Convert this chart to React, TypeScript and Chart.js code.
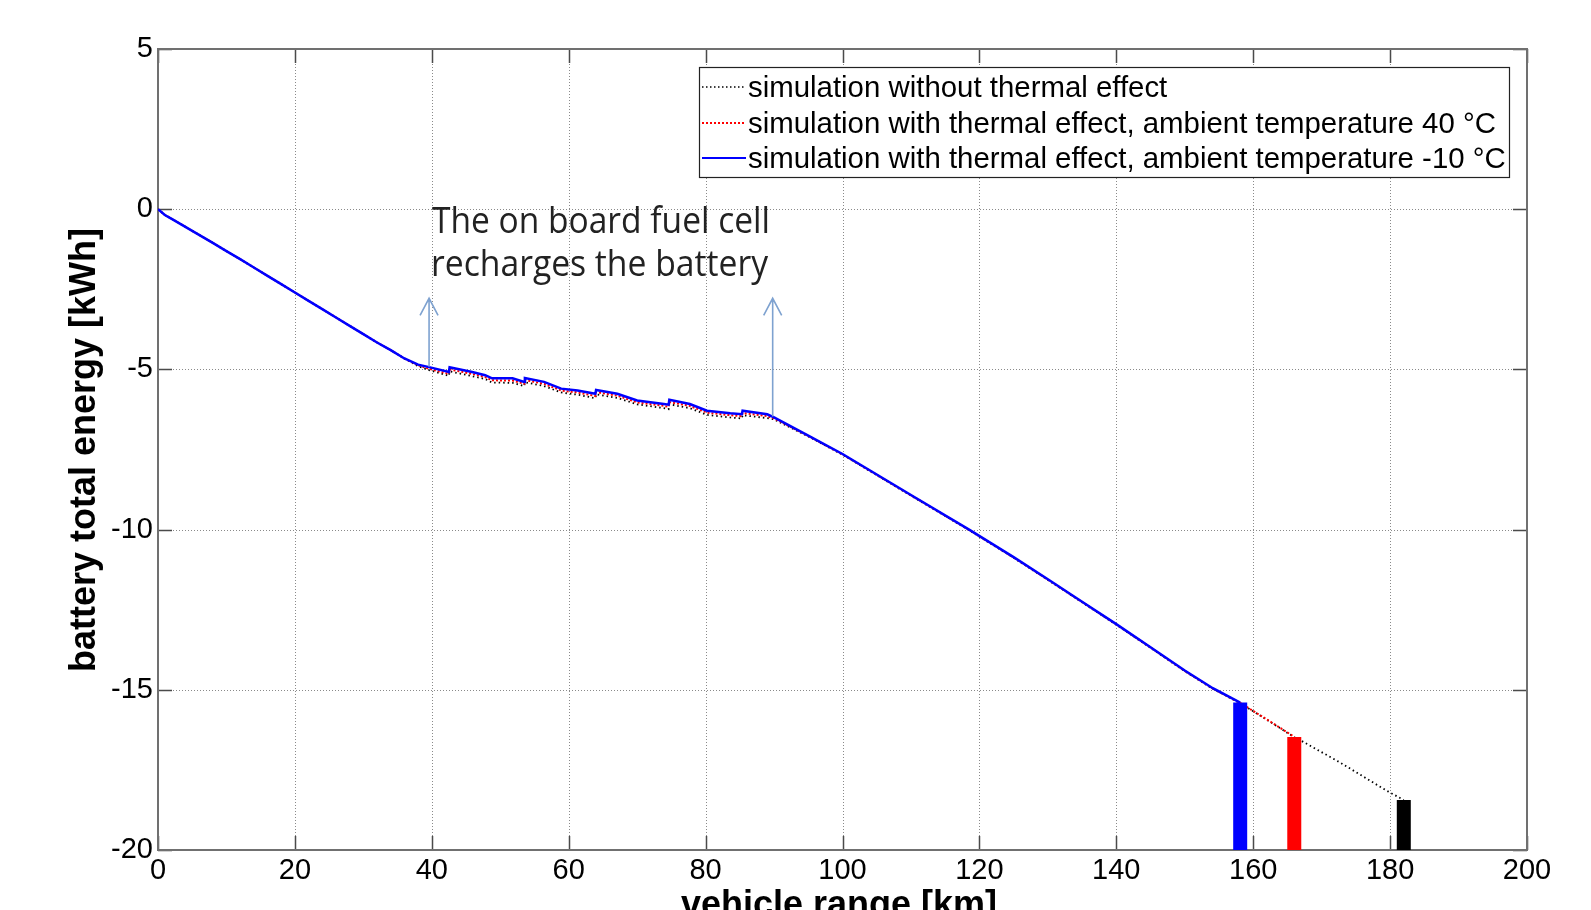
import React, { useEffect, useRef } from "react";
import { Chart, registerables } from "chart.js";

Chart.register(...registerables);

// ---- axes ----
const xTicks = [0, 20, 40, 60, 80, 100, 120, 140, 160, 180, 200];
const yTicks = [-20, -15, -10, -5, 0, 5];
const xTitle = "vehicle range [km]";
const yTitle = "battery total energy [kWh]";

// ---- series: simulation with thermal effect, ambient -10 °C (blue) ----
const kmBlue = [0, 1, 2, 4, 6, 8, 10, 12, 14, 16, 18, 20, 22, 24, 26, 28, 30, 32, 34, 36, 38,
  39.6, 42.5, 42.6, 45.9, 47.8, 48.8, 51.8, 53.5, 53.6, 56.4, 58.9, 61.3, 63.9, 64.0, 67.1, 70.0,
  73.9, 74.6, 74.7, 77.7, 80.2, 83.6, 85.3, 85.4, 89.0, 90.0,
  95, 100, 105, 110, 118.5, 125, 130, 135, 140, 145, 150, 154.1, 158.1];
const energyBlue = [0, -0.18, -0.3, -0.55, -0.8, -1.05, -1.31, -1.56, -1.82, -2.08, -2.34, -2.6, -2.86, -3.12, -3.38, -3.64, -3.9, -4.16, -4.4, -4.66, -4.85,
  -4.93, -5.08, -4.93, -5.08, -5.18, -5.28, -5.28, -5.39, -5.27, -5.39, -5.6, -5.66, -5.76, -5.64, -5.76, -5.97,
  -6.08, -6.1, -5.95, -6.08, -6.29, -6.37, -6.4, -6.29, -6.4, -6.5,
  -7.07, -7.64, -8.28, -8.92, -10.0, -10.86, -11.55, -12.25, -12.95, -13.67, -14.4, -14.95, -15.4];

// ---- series: simulation with thermal effect, ambient 40 °C (red) ----
const kmRed = [0, 1, 2, 4, 6, 8, 10, 12, 14, 16, 18, 20, 22, 24, 26, 28, 30, 32, 34, 36, 38,
  39.6, 42.5, 42.6, 45.9, 47.8, 48.8, 51.8, 53.5, 53.6, 56.4, 58.9, 61.3, 63.9, 64.0, 67.1, 70.0,
  73.9, 74.6, 74.7, 77.7, 80.2, 83.6, 85.3, 85.4, 89.0, 90.0,
  95, 100, 105, 110, 118.5, 125, 130, 135, 140, 145, 150, 154.1, 158.1, 160, 163, 166];
const energyRed = [0, -0.18, -0.3, -0.55, -0.8, -1.05, -1.31, -1.56, -1.82, -2.08, -2.34, -2.6, -2.86, -3.12, -3.38, -3.64, -3.9, -4.16, -4.4, -4.66, -4.87,
  -4.98, -5.14, -5.0, -5.14, -5.24, -5.34, -5.35, -5.45, -5.33, -5.45, -5.66, -5.72, -5.83, -5.71, -5.82, -6.03,
  -6.14, -6.17, -6.02, -6.14, -6.35, -6.43, -6.46, -6.36, -6.46, -6.53,
  -7.08, -7.65, -8.29, -8.93, -10.01, -10.87, -11.56, -12.26, -12.96, -13.68, -14.41, -14.96, -15.41, -15.66, -16.06, -16.47];

// ---- series: simulation without thermal effect (black) ----
const kmBlack = [0, 1, 2, 4, 6, 8, 10, 12, 14, 16, 18, 20, 22, 24, 26, 28, 30, 32, 34, 36, 38,
  39.6, 42.5, 42.6, 45.9, 47.8, 48.8, 51.8, 53.5, 53.6, 56.4, 58.9, 61.3, 63.9, 64.0, 67.1, 70.0,
  73.9, 74.6, 74.7, 77.7, 80.2, 83.6, 85.3, 85.4, 89.0, 90.0,
  95, 100, 105, 110, 118.5, 125, 130, 135, 140, 145, 150, 154.1, 158.1, 160, 163, 166,
  167.1, 172.7, 179.5, 182];
const energyBlack = [0, -0.18, -0.3, -0.55, -0.8, -1.05, -1.31, -1.56, -1.82, -2.08, -2.34, -2.6, -2.86, -3.12, -3.38, -3.64, -3.9, -4.16, -4.4, -4.66, -4.9,
  -5.02, -5.2, -5.06, -5.21, -5.3, -5.41, -5.42, -5.52, -5.4, -5.52, -5.72, -5.79, -5.9, -5.78, -5.89, -6.09,
  -6.21, -6.24, -6.09, -6.21, -6.42, -6.5, -6.53, -6.43, -6.52, -6.56,
  -7.09, -7.66, -8.3, -8.94, -10.02, -10.88, -11.57, -12.27, -12.97, -13.69, -14.42, -14.97, -15.42, -15.67, -16.07, -16.48,
  -16.6, -17.27, -18.15, -18.44];

const seriesLabels = [
  "simulation without thermal effect",
  "simulation with thermal effect, ambient temperature 40 °C",
  "simulation with thermal effect, ambient temperature -10 °C",
];

// ---- end-of-range markers (blue, red, black) ----
const endKm = [158.1, 166.0, 182.0];
const endEnergy = [-15.4, -16.47, -18.44];

// ---- annotation ----
const arrowKm = [39.6, 89.8];
const arrowFrom = [-4.92, -6.47];
const arrowTo = [-2.78, -2.78];
const noteLines = ["The on board fuel cell", "recharges the battery"];

const SANS = "'Liberation Sans', Arial, Helvetica, sans-serif";

const framePlugin = {
  id: "frame",
  beforeDatasetsDraw(chart: any) {
    const { ctx, chartArea: a } = chart;
    const xs = chart.scales.x;
    const ys = chart.scales.y;
    ctx.save();
    // dotted grid
    ctx.strokeStyle = "#8a8a8a";
    ctx.lineWidth = 1;
    ctx.setLineDash([1, 2]);
    for (const v of xTicks) {
      if (v === xTicks[0] || v === xTicks[xTicks.length - 1]) continue;
      const p = Math.round(xs.getPixelForValue(v)) + 0.5;
      ctx.beginPath();
      ctx.moveTo(p, a.top);
      ctx.lineTo(p, a.bottom);
      ctx.stroke();
    }
    for (const v of yTicks) {
      if (v === yTicks[0] || v === yTicks[yTicks.length - 1]) continue;
      const p = Math.round(ys.getPixelForValue(v)) + 0.5;
      ctx.beginPath();
      ctx.moveTo(a.left, p);
      ctx.lineTo(a.right, p);
      ctx.stroke();
    }
    ctx.setLineDash([]);
    // inward tick marks
    ctx.strokeStyle = "#4a4a4a";
    ctx.lineWidth = 1.5;
    const tl = 14;
    for (const v of xTicks) {
      const p = Math.round(xs.getPixelForValue(v)) + 0.5;
      ctx.beginPath();
      ctx.moveTo(p, a.bottom);
      ctx.lineTo(p, a.bottom - tl);
      ctx.moveTo(p, a.top);
      ctx.lineTo(p, a.top + tl);
      ctx.stroke();
    }
    for (const v of yTicks) {
      const p = Math.round(ys.getPixelForValue(v)) + 0.5;
      ctx.beginPath();
      ctx.moveTo(a.left, p);
      ctx.lineTo(a.left + tl, p);
      ctx.moveTo(a.right, p);
      ctx.lineTo(a.right - tl, p);
      ctx.stroke();
    }
    // box
    ctx.strokeStyle = "#707070";
    ctx.lineWidth = 2;
    ctx.strokeRect(a.left, a.top, a.right - a.left, a.bottom - a.top);
    ctx.restore();
  },
  afterDatasetsDraw(chart: any) {
    const { ctx } = chart;
    const xs = chart.scales.x;
    const ys = chart.scales.y;
    ctx.save();

    // arrows
    ctx.strokeStyle = "#7ea2d0";
    ctx.lineWidth = 1.6;
    for (let i = 0; i < arrowKm.length; i++) {
      const px = xs.getPixelForValue(arrowKm[i]);
      const y0 = ys.getPixelForValue(arrowFrom[i]);
      const y1 = ys.getPixelForValue(arrowTo[i]);
      ctx.beginPath();
      ctx.moveTo(px, y0);
      ctx.lineTo(px, y1);
      ctx.moveTo(px - 9, y1 + 17);
      ctx.lineTo(px, y1);
      ctx.lineTo(px + 9, y1 + 17);
      ctx.stroke();
    }

    // annotation text
    ctx.fillStyle = "#222222";
    ctx.font = "36px 'Open Sans', 'Noto Sans', sans-serif";
    ctx.textAlign = "left";
    ctx.textBaseline = "alphabetic";
    const noteX = [432, 431];
    const noteY = [233, 276];
    const noteW = [338, 337];
    for (let i = 0; i < noteLines.length; i++) {
      const w = ctx.measureText(noteLines[i]).width;
      ctx.save();
      ctx.translate(noteX[i], noteY[i]);
      ctx.scale(noteW[i] / w, 1);
      ctx.fillText(noteLines[i], 0, 0);
      ctx.restore();
    }

    // legend
    const lx = 699, ly = 67, lw = 810, lh = 110;
    ctx.fillStyle = "#ffffff";
    ctx.fillRect(lx, ly, lw, lh);
    ctx.strokeStyle = "#222";
    ctx.lineWidth = 1.2;
    ctx.strokeRect(lx + 0.5, ly + 0.5, lw, lh);
    const rowBase = [97, 133, 168];
    const sampleStyle = [
      { c: "#000000", dash: [1.5, 2.5], w: 1.5 },
      { c: "#ff0000", dash: [2, 2], w: 2 },
      { c: "#0000ff", dash: [], w: 2 },
    ];
    ctx.font = `29.4px ${SANS}`;
    for (let i = 0; i < seriesLabels.length; i++) {
      const s = sampleStyle[i];
      ctx.strokeStyle = s.c;
      ctx.lineWidth = s.w;
      ctx.setLineDash(s.dash);
      ctx.beginPath();
      ctx.moveTo(702, rowBase[i] - 10);
      ctx.lineTo(746, rowBase[i] - 10);
      ctx.stroke();
      ctx.setLineDash([]);
      ctx.fillStyle = "#000";
      ctx.fillText(seriesLabels[i], 748, rowBase[i]);
    }
    ctx.restore();
  },
  afterDraw(chart: any) {
    const { ctx } = chart;
    ctx.save();
    ctx.fillStyle = "#000";
    ctx.font = `bold 36px ${SANS}`;
    ctx.textAlign = "center";
    ctx.textBaseline = "alphabetic";
    ctx.fillText(xTitle, 839, 916);
    ctx.translate(95, 450);
    ctx.rotate(-Math.PI / 2);
    ctx.fillText(yTitle, 0, 0);
    ctx.restore();
  },
};

function toPoints(xs: number[], ys: number[]) {
  return xs.map((x, i) => ({ x, y: ys[i] }));
}

export default function App() {
  const ref = useRef<HTMLCanvasElement | null>(null);

  useEffect(() => {
    if (!ref.current) return;
    const barColors = ["#0000ff", "#ff0000", "#000000"];
    const barSets = endKm.map((k, i) => ({
      label: "end " + i,
      data: [
        { x: k, y: yTicks[0] },
        { x: k, y: endEnergy[i] },
      ],
      borderColor: barColors[i],
      backgroundColor: barColors[i],
      borderWidth: 14,
      borderCapStyle: "butt" as const,
      pointRadius: 0,
      order: -1,
    }));
    const chart = new Chart(ref.current, {
      type: "line",
      data: {
        datasets: [
          {
            label: seriesLabels[2],
            data: toPoints(kmBlue, energyBlue),
            borderColor: "#0000ff",
            borderWidth: 2.5,
            pointRadius: 0,
            order: 0,
          },
          {
            label: seriesLabels[1],
            data: toPoints(kmRed, energyRed),
            borderColor: "#ff0000",
            borderWidth: 2,
            borderDash: [2, 2],
            pointRadius: 0,
            order: 1,
          },
          {
            label: seriesLabels[0],
            data: toPoints(kmBlack, energyBlack),
            borderColor: "#000000",
            borderWidth: 1.8,
            borderDash: [1.5, 3],
            pointRadius: 0,
            order: 2,
          },
          ...barSets,
        ],
      },
      options: {
        responsive: false,
        animation: false,
        devicePixelRatio: 1,
        layout: { padding: { left: 0, top: 49, right: 64, bottom: 0 } },
        plugins: { legend: { display: false }, tooltip: { enabled: false } },
        elements: { line: { tension: 0 } },
        scales: {
          x: {
            type: "linear",
            min: xTicks[0],
            max: xTicks[xTicks.length - 1],
            afterBuildTicks: (s: any) => {
              s.ticks = xTicks.map((v) => ({ value: v }));
            },
            afterFit: (s: any) => {
              s.height = 60;
            },
            grid: { display: false, drawTicks: false },
            border: { display: false },
            ticks: {
              color: "#000",
              padding: 4,
              maxRotation: 0,
              autoSkip: false,
              font: { family: SANS, size: 29 },
            },
          },
          y: {
            type: "linear",
            min: yTicks[0],
            max: yTicks[yTicks.length - 1],
            afterBuildTicks: (s: any) => {
              s.ticks = yTicks.map((v) => ({ value: v }));
            },
            afterFit: (s: any) => {
              s.width = 158;
            },
            grid: { display: false, drawTicks: false },
            border: { display: false },
            ticks: {
              color: "#000",
              padding: 5,
              autoSkip: false,
              font: { family: SANS, size: 29 },
            },
          },
        },
      },
      plugins: [framePlugin],
    });
    return () => chart.destroy();
  }, []);

  return (
    <div style={{ position: "fixed", left: 0, top: 0, width: 1591, height: 910, background: "#fff", overflow: "hidden" }}>
      <canvas ref={ref} width={1591} height={910} style={{ display: "block" }} />
    </div>
  );
}
